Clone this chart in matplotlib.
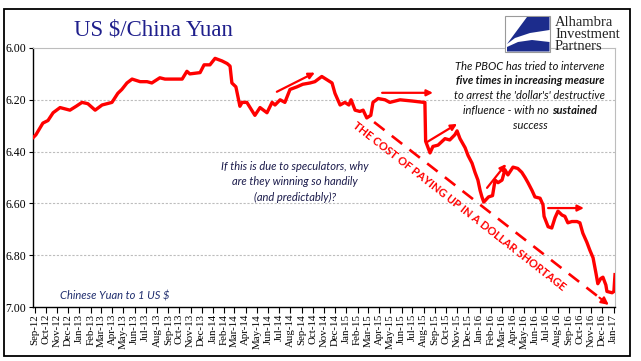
import numpy as np
import pandas as pd
import matplotlib
matplotlib.use('Agg')
import matplotlib.pyplot as plt
import matplotlib.dates as mdates
from matplotlib.patches import Rectangle, Polygon
from matplotlib.ticker import FormatStrFormatter

# USD/CNY readings
dates = ['2012-08-28', '2012-09-04', '2012-09-23', '2012-10-07', '2012-10-21', '2012-11-09',
         '2012-11-23', '2012-12-06', '2012-12-23', '2013-01-08', '2013-01-24', '2013-02-13',
         '2013-03-04', '2013-03-31', '2013-04-16', '2013-04-27', '2013-05-11', '2013-05-25',
         '2013-06-16', '2013-07-05', '2013-07-18', '2013-08-09', '2013-08-23', '2013-09-19',
         '2013-10-09', '2013-10-22', '2013-10-30', '2013-11-27', '2013-12-08', '2013-12-24',
         '2014-01-07', '2014-01-26', '2014-02-09', '2014-02-17', '2014-02-22', '2014-03-05',
         '2014-03-16', '2014-03-22', '2014-04-04', '2014-04-26', '2014-05-10', '2014-05-29',
         '2014-06-12', '2014-06-20', '2014-07-04', '2014-07-17', '2014-07-31', '2014-08-19',
         '2014-09-04', '2014-09-24', '2014-10-07', '2014-10-26', '2014-11-12', '2014-11-23',
         '2014-12-01', '2014-12-15', '2014-12-28', '2015-01-08', '2015-01-14', '2015-01-25',
         '2015-02-07', '2015-02-16', '2015-02-26', '2015-03-09', '2015-03-15', '2015-03-29',
         '2015-04-17', '2015-04-30', '2015-05-28', '2015-07-02', '2015-08-01', '2015-08-04',
         '2015-08-06', '2015-08-18', '2015-08-26', '2015-09-09', '2015-09-28', '2015-10-11',
         '2015-10-25', '2015-10-31', '2015-11-08', '2015-11-22', '2015-11-30', '2015-12-11',
         '2015-12-19', '2015-12-27', '2016-01-02', '2016-01-07', '2016-01-12', '2016-01-25',
         '2016-02-05', '2016-02-12', '2016-02-20', '2016-03-02', '2016-03-10', '2016-03-18',
         '2016-04-01', '2016-04-14', '2016-04-25', '2016-05-04', '2016-05-12', '2016-05-23',
         '2016-05-31', '2016-06-14', '2016-06-22', '2016-06-25', '2016-07-06', '2016-07-16',
         '2016-07-25', '2016-08-02', '2016-08-13', '2016-08-21', '2016-08-29', '2016-09-09',
         '2016-09-23', '2016-10-01', '2016-10-09', '2016-10-20', '2016-10-28', '2016-11-06',
         '2016-11-14', '2016-11-19', '2016-11-27', '2016-12-03', '2016-12-11', '2016-12-14',
         '2016-12-28', '2017-01-02', '2017-01-05']
values = [6.345, 6.335, 6.29, 6.28, 6.25, 6.23,
          6.235, 6.24, 6.225, 6.21, 6.215, 6.24,
          6.22, 6.21, 6.175, 6.16, 6.135, 6.12,
          6.13, 6.13, 6.135, 6.115, 6.12, 6.12,
          6.12, 6.09, 6.10, 6.095, 6.065, 6.065,
          6.04, 6.05, 6.06, 6.07, 6.135, 6.15,
          6.225, 6.21, 6.21, 6.26, 6.23, 6.25,
          6.21, 6.22, 6.20, 6.21, 6.16, 6.15,
          6.14, 6.135, 6.13, 6.11, 6.125, 6.135,
          6.175, 6.22, 6.21, 6.22, 6.20, 6.24,
          6.245, 6.24, 6.27, 6.26, 6.21, 6.195,
          6.20, 6.21, 6.20, 6.205, 6.21, 6.21,
          6.36, 6.405, 6.38, 6.375, 6.35, 6.355,
          6.335, 6.32, 6.35, 6.385, 6.415, 6.445,
          6.48, 6.51, 6.55, 6.575, 6.595, 6.575,
          6.57, 6.51, 6.52, 6.51, 6.47, 6.49,
          6.46, 6.465, 6.48, 6.50, 6.52, 6.55,
          6.575, 6.58, 6.605, 6.65, 6.69, 6.695,
          6.655, 6.63, 6.645, 6.65, 6.675, 6.67,
          6.67, 6.675, 6.715, 6.75, 6.78, 6.81,
          6.87, 6.91, 6.89, 6.885, 6.915, 6.94,
          6.945, 6.94, 6.875]

# PBOC intervention arrows (start, end)
arrow_starts = [('2014-06-25', 6.169), ('2015-04-09', 6.173), ('2015-08-10', 6.363),
                ('2016-01-21', 6.540), ('2016-07-06', 6.618)]
arrow_ends = [('2014-10-07', 6.095), ('2015-08-26', 6.173), ('2015-10-31', 6.293),
              ('2016-03-13', 6.448), ('2016-10-12', 6.618)]
trend_start = ('2015-03-18', 6.286)
trend_end = ('2016-12-19', 6.992)

W, H = 641, 361
fig = plt.figure(figsize=(W / 100, H / 100), dpi=100)


def fx(px):
    return px / W


def fy(py):
    return 1 - py / H


ax = fig.add_axes([fx(33), fy(307), fx(615) - fx(33), fy(48) - fy(307)])

d = pd.to_datetime(dates)
ax.plot(d, values, color='#FF0000', lw=2.4, solid_joinstyle='round', zorder=5)

ax.set_xlim(pd.Timestamp('2012-08-27'), pd.Timestamp('2017-01-05'))
ax.set_ylim(7.0, 6.0)
ax.set_yticks(np.arange(6.0, 7.01, 0.2))
ax.yaxis.set_major_formatter(FormatStrFormatter('%.2f'))
ax.xaxis.set_major_locator(mdates.MonthLocator())
ax.xaxis.set_major_formatter(mdates.DateFormatter('%b-%y'))
for lab in ax.get_xticklabels():
    lab.set_rotation(90)
ax.tick_params(axis='x', labelsize=7.8, length=4, pad=1, direction='out')
ax.tick_params(axis='y', labelsize=8.5, length=3, pad=2, direction='out')
for lab in ax.get_xticklabels() + ax.get_yticklabels():
    lab.set_family('Liberation Serif')

for yv in [6.2, 6.4, 6.6, 6.8]:
    ax.axhline(yv, color='#BDBDBD', lw=0.8, ls=(0, (2, 1.5)), zorder=1)
ax.spines['top'].set_color('#BDBDBD')
ax.spines['right'].set_color('#BDBDBD')
ax.spines['left'].set_linewidth(1.0)
ax.spines['bottom'].set_linewidth(1.0)

# intervention arrows
for s, e in zip(arrow_starts, arrow_ends):
    ax.annotate('', xy=(mdates.date2num(pd.Timestamp(e[0])), e[1]),
                xytext=(mdates.date2num(pd.Timestamp(s[0])), s[1]),
                arrowprops=dict(arrowstyle='-|>', color='#FF0000', lw=1.6,
                                mutation_scale=9, shrinkA=0, shrinkB=0), zorder=6)

# dashed trend arrow
x0 = mdates.date2num(pd.Timestamp(trend_start[0]))
x1 = mdates.date2num(pd.Timestamp(trend_end[0]))
y0, y1 = trend_start[1], trend_end[1]
xm = x0 + (x1 - x0) * 0.96
ym = y0 + (y1 - y0) * 0.96
ax.plot([x0, xm], [y0, ym], color='#FF0000', lw=1.9, ls=(0, (5, 3.5)), zorder=6)
ax.annotate('', xy=(x1, y1), xytext=(xm, ym),
            arrowprops=dict(arrowstyle='-|>', color='#FF0000', lw=1.5,
                            mutation_scale=11, shrinkA=0, shrinkB=0), zorder=6)

fig.text(fx(459), fy(206), 'THE COST OF PAYING UP IN A DOLLAR SHORTAGE',
         color='#FF0000', fontsize=8, fontweight='bold', family='Lato',
         rotation=-38, rotation_mode='anchor', ha='center', va='center')

# title and notes
fig.text(fx(153), fy(30), 'US $/China Yuan', family='Liberation Serif',
         fontsize=16.5, color='#1F1F8C', ha='center', va='center')
fig.text(fx(60), fy(296), 'Chinese Yuan to 1 US $', family='Lato', style='italic',
         fontsize=8, color='#1F2D6E', ha='left', va='center')

mid_lines = ['If this is due to speculators, why', 'are they winning so handily',
             '(and predictably)?']
for i, t in enumerate(mid_lines):
    fig.text(fx(295), fy(167 + 15 * i), t, family='Lato', style='italic',
             fontsize=8, color='#1B1B4B', ha='center', va='center')

right_lines = [[('The PBOC has tried to intervene', 'normal')],
               [('five times in increasing measure', 'bold')],
               [("to arrest the 'dollar's' destructive", 'normal')],
               [('influence - with no ', 'normal'), ('sustained', 'bold')],
               [('success', 'normal')]]
renderer = fig.canvas.get_renderer()
for i, parts in enumerate(right_lines):
    objs = []
    for t, w in parts:
        objs.append(fig.text(0, fy(66 + 14.8 * i), t, family='Lato', style='italic',
                             fontweight=w, fontsize=8, color='#111111',
                             ha='left', va='center'))
    widths = [o.get_window_extent(renderer).width for o in objs]
    left = 530 - sum(widths) / 2
    for o, wd in zip(objs, widths):
        o.set_x(fx(left))
        left += wd

# logo
fig.patches.append(Rectangle((fx(505), fy(52)), fx(550) - fx(505), fy(16) - fy(52),
                             transform=fig.transFigure, facecolor='white',
                             edgecolor='#9A9A9A', lw=0.8))
top_shape = [(527, 17), (549.5, 17), (549.5, 30), (530, 33), (515, 38), (507, 44)]
bot_shape = [(507, 47), (518, 42), (532, 40), (549.5, 42), (549.5, 51.5), (507, 51.5)]
for shp in [top_shape, bot_shape]:
    fig.patches.append(Polygon([(fx(a), fy(b)) for a, b in shp], closed=True,
                               transform=fig.transFigure, facecolor='#1C2C8C',
                               edgecolor='none'))
for i, t in enumerate(['Alhambra', 'Investment', 'Partners']):
    fig.text(fx(555), fy(23 + 12 * i), t, family='Liberation Serif', fontsize=10.5,
             color='#222222', ha='left', va='center')

# outer frame
fig.patches.append(Rectangle((fx(4), fy(356)), fx(630) - fx(4), fy(9) - fy(356),
                             transform=fig.transFigure, fill=False,
                             edgecolor='black', lw=1.3))

fig.savefig('out.png', dpi=100)
